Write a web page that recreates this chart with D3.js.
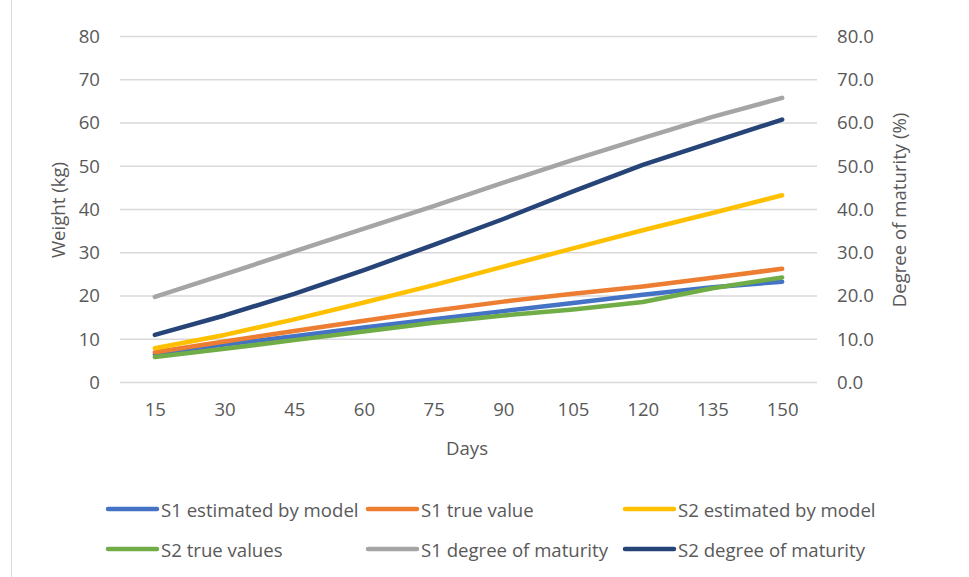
<!DOCTYPE html>
<html>
<head>
<meta charset="utf-8">
<script src="https://cdn.jsdelivr.net/npm/d3@7"></script>
<style>
  body { margin: 0; background: #fff; }
  svg text { font-family: "Open Sans", sans-serif; fill: #595959; }
</style>
</head>
<body>
<div class="chart"></div>
<script>
// data
var days = [15, 30, 45, 60, 75, 90, 105, 120, 135, 150];
var s1Estimated = [6.5, 8.8, 10.7, 12.7, 14.6, 16.5, 18.4, 20.3, 22.0, 23.3];
var s1True = [7.0, 9.5, 11.9, 14.3, 16.6, 18.7, 20.5, 22.2, 24.2, 26.3];
var s2Estimated = [7.9, 11.0, 14.6, 18.5, 22.5, 26.8, 31.0, 35.2, 39.2, 43.3];
var s2True = [5.9, 7.8, 9.8, 11.8, 13.8, 15.5, 16.9, 18.6, 21.8, 24.3];
var s1Maturity = [19.8, 25.0, 30.3, 35.6, 40.8, 46.2, 51.5, 56.5, 61.4, 65.8];
var s2Maturity = [11.0, 15.5, 20.5, 26.0, 31.8, 37.8, 44.2, 50.3, 55.6, 60.8];
var leftTicks = [0, 10, 20, 30, 40, 50, 60, 70, 80];

var series = [
    { name: 'S1 estimated by model', values: s1Estimated, color: '#4472C4', axis: 'left' },
    { name: 'S1 true value', values: s1True, color: '#ED7D31', axis: 'left' },
    { name: 'S2 estimated by model', values: s2Estimated, color: '#FFC000', axis: 'left' },
    { name: 'S2 true values', values: s2True, color: '#70AD47', axis: 'left' },
    { name: 'S1 degree of maturity', values: s1Maturity, color: '#A5A5A5', axis: 'right' },
    { name: 'S2 degree of maturity', values: s2Maturity, color: '#264478', axis: 'right' }
];

var W = 969, H = 577;
var plot = { left: 120, right: 817, top: 36.5, bottom: 382.5 };
var fontSize = '18.6px';

var svg = d3.select('.chart')
    .append('svg')
    .attr('width', W)
    .attr('height', H);

// outer chart border (only left edge is in view)
svg.append('line')
    .attr('x1', 11.5).attr('x2', 11.5)
    .attr('y1', 0).attr('y2', H)
    .attr('stroke', '#d9d9d9')
    .attr('stroke-width', 1);

var xScale = d3.scalePoint()
    .domain(days)
    .range([plot.left, plot.right])
    .padding(0.5);

var yLeft = d3.scaleLinear().domain([0, 80]).range([plot.bottom, plot.top]);
var yRight = d3.scaleLinear().domain([0, 80]).range([plot.bottom, plot.top]);

// gridlines
svg.append('g')
    .selectAll('line')
    .data(leftTicks)
    .enter()
    .append('line')
    .attr('x1', plot.left)
    .attr('x2', plot.right)
    .attr('y1', d => yLeft(d))
    .attr('y2', d => yLeft(d))
    .attr('stroke', '#d9d9d9')
    .attr('stroke-width', 1.5);

// left axis
var leftAxis = svg.append('g')
    .attr('transform', `translate(${plot.left},0)`)
    .call(d3.axisLeft(yLeft).tickValues(leftTicks).tickSize(0).tickPadding(20));
leftAxis.select('.domain').remove();
leftAxis.selectAll('text').style('font-size', fontSize).attr('fill', '#595959');

// right axis
var rightAxis = svg.append('g')
    .attr('transform', `translate(${plot.right},0)`)
    .call(d3.axisRight(yRight).tickValues(leftTicks).tickFormat(d3.format('.1f')).tickSize(0).tickPadding(20));
rightAxis.select('.domain').remove();
rightAxis.selectAll('text').style('font-size', fontSize).attr('fill', '#595959');

// bottom axis
var bottomAxis = svg.append('g')
    .attr('transform', `translate(0,${plot.bottom})`)
    .call(d3.axisBottom(xScale).tickSize(0).tickPadding(20));
bottomAxis.select('.domain').remove();
bottomAxis.selectAll('text').style('font-size', fontSize).attr('fill', '#595959');

// axis titles
svg.append('text')
    .attr('transform', 'translate(57,210) rotate(-90)')
    .attr('text-anchor', 'middle')
    .attr('dominant-baseline', 'central')
    .style('font-size', fontSize)
    .text('Weight (kg)');

svg.append('text')
    .attr('transform', 'translate(898,210) rotate(-90)')
    .attr('text-anchor', 'middle')
    .attr('dominant-baseline', 'central')
    .style('font-size', fontSize)
    .text('Degree of maturity (%)');

svg.append('text')
    .attr('x', 467)
    .attr('y', 447)
    .attr('text-anchor', 'middle')
    .attr('dominant-baseline', 'central')
    .style('font-size', fontSize)
    .text('Days');

// lines
var line = d3.line()
    .x((d, i) => xScale(days[i]));

svg.append('g')
    .selectAll('path')
    .data(series)
    .enter()
    .append('path')
    .attr('d', s => line.y(d => (s.axis === 'left' ? yLeft : yRight)(d))(s.values))
    .attr('fill', 'none')
    .attr('stroke', s => s.color)
    .attr('stroke-width', 4.5)
    .attr('stroke-linecap', 'round')
    .attr('stroke-linejoin', 'round');

// legend
var legendPos = [
    { x: 108, y: 509 }, { x: 368, y: 509 }, { x: 625, y: 509 },
    { x: 108, y: 549 }, { x: 368, y: 549 }, { x: 625, y: 549 }
];

var legend = svg.append('g')
    .selectAll('g')
    .data(series)
    .enter()
    .append('g')
    .attr('transform', (d, i) => `translate(${legendPos[i].x},${legendPos[i].y})`);

legend.append('line')
    .attr('x1', 0).attr('x2', 49)
    .attr('y1', 0).attr('y2', 0)
    .attr('stroke', d => d.color)
    .attr('stroke-width', 4.5)
    .attr('stroke-linecap', 'round');

legend.append('text')
    .attr('x', 53)
    .attr('y', 0)
    .attr('dominant-baseline', 'central')
    .style('font-size', fontSize)
    .text(d => d.name);
</script>
</body>
</html>
